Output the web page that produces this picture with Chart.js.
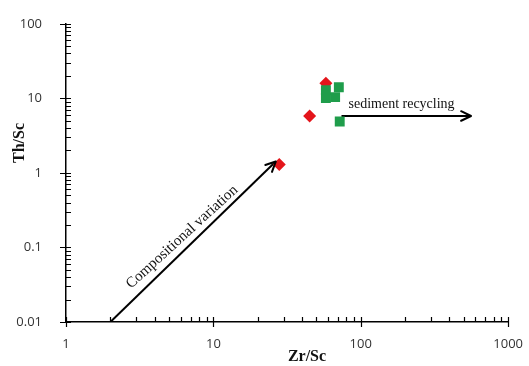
<!DOCTYPE html>
<html>
<head>
<meta charset="utf-8">
<script src="https://cdn.jsdelivr.net/npm/chart.js@4.4.1/dist/chart.umd.min.js"></script>
<style>
  html, body { margin: 0; padding: 0; background: #fff; }
  #wrap { width: 529px; height: 366px; }
</style>
</head>
<body>
<div id="wrap"><canvas id="c"></canvas></div>
<script>
// Datos (Zr/Sc vs Th/Sc, log-log)
const redZrSc = [58, 45, 28];
const redThSc = [16, 5.8, 1.3];
const greenZrSc = [58, 71, 58, 67, 72];
const greenThSc = [12.9, 14.1, 10.1, 10.4, 4.9];

const xTicks = [1, 10, 100, 1000];
const xTickLabels = ['1', '10', '100', '1000'];
const yTicks = [0.01, 0.1, 1, 10, 100];
const yTickLabels = ['0.01', '0.1', '1', '10', '100'];

// flechas (coordenadas en unidades de datos)
const compArrowX = [2, 26.5];
const compArrowY = [0.01, 1.42];
const sedArrowX = [74, 560];
const sedArrowY = [5.8, 5.8];

const xTitle = 'Zr/Sc';
const yTitle = 'Th/Sc';
const compLabel = 'Compositional variation';
const sedLabel = 'sediment recycling';

const pts = (xs, ys) => xs.map((x, i) => ({ x, y: ys[i] }));

// marcas menores y mayores de los ejes log
function drawAxisTicks(chart) {
  const ctx = chart.ctx;
  const xs = chart.scales.x, ys = chart.scales.y;
  const xAxisY = ys.bottom, yAxisX = xs.left;
  ctx.save();
  ctx.strokeStyle = '#000';
  ctx.lineWidth = 1.2;
  ctx.beginPath();
  for (let d = 1; d < 1000; d *= 10) {
    for (let k = 1; k <= 10; k++) {
      const px = Math.round(xs.getPixelForValue(d * k)) + 0.5;
      const major = k === 1 || k === 10;
      ctx.moveTo(px, xAxisY - 5);
      ctx.lineTo(px, major ? xAxisY + 5 : xAxisY);
    }
  }
  for (let d = 0.01; d < 99; d *= 10) {
    for (let k = 1; k <= 10; k++) {
      const py = Math.round(ys.getPixelForValue(d * k)) + 0.5;
      const major = k === 1 || k === 10;
      ctx.moveTo(major ? yAxisX - 6 : yAxisX, py);
      ctx.lineTo(yAxisX + 5, py);
    }
  }
  ctx.stroke();
  ctx.restore();
}

function arrowHead(ctx, x0, y0, x1, y1) {
  const a = Math.atan2(y1 - y0, x1 - x0);
  const len = 11, spread = 0.45;
  ctx.beginPath();
  ctx.moveTo(x1 - len * Math.cos(a - spread), y1 - len * Math.sin(a - spread));
  ctx.lineTo(x1, y1);
  ctx.lineTo(x1 - len * Math.cos(a + spread), y1 - len * Math.sin(a + spread));
  ctx.stroke();
}

const annotations = {
  id: 'annotations',
  afterDatasetsDraw(chart) {
    const ctx = chart.ctx;
    const xs = chart.scales.x, ys = chart.scales.y;
    drawAxisTicks(chart);

    ctx.save();
    ctx.strokeStyle = '#000';
    ctx.lineWidth = 2;
    ctx.lineCap = 'round';
    ctx.lineJoin = 'round';
    // cabezas de flecha
    [chart.getDatasetMeta(2), chart.getDatasetMeta(3)].forEach(meta => {
      const p = meta.data;
      const a = p[p.length - 2], b = p[p.length - 1];
      arrowHead(ctx, a.x, a.y, b.x, b.y);
    });

    // texto de la flecha diagonal
    ctx.fillStyle = '#111';
    ctx.font = '15px "Liberation Serif", "Times New Roman", serif';
    const cx0 = xs.getPixelForValue(compArrowX[0]), cy0 = ys.getPixelForValue(compArrowY[0]);
    const cx1 = xs.getPixelForValue(compArrowX[1]), cy1 = ys.getPixelForValue(compArrowY[1]);
    const ang = Math.atan2(cy1 - cy0, cx1 - cx0);
    const t = 0.48;
    const mx = cx0 + (cx1 - cx0) * t, my = cy0 + (cy1 - cy0) * t;
    ctx.save();
    ctx.translate(mx + 11 * Math.sin(ang), my - 11 * Math.cos(ang));
    ctx.rotate(ang + 0.03);
    ctx.textAlign = 'center';
    ctx.textBaseline = 'middle';
    ctx.fillText(compLabel, 0, 0);
    ctx.restore();

    // texto de la flecha horizontal
    ctx.font = '14px "Liberation Serif", "Times New Roman", serif';
    const sx = xs.getPixelForValue(sedArrowX[0]), sy = ys.getPixelForValue(sedArrowY[0]);
    ctx.textAlign = 'left';
    ctx.textBaseline = 'alphabetic';
    ctx.fillText(sedLabel, sx + 7, sy - 8);

    // títulos de ejes
    ctx.font = 'bold 16px "Liberation Serif", "Times New Roman", serif';
    ctx.textAlign = 'center';
    ctx.textBaseline = 'middle';
    ctx.fillText(xTitle, 307, 357);
    ctx.save();
    ctx.translate(20, 143);
    ctx.rotate(-Math.PI / 2);
    ctx.fillText(yTitle, 0, 0);
    ctx.restore();
    ctx.restore();
  }
};

new Chart(document.getElementById('c'), {
  type: 'scatter',
  data: {
    datasets: [
      {
        label: 'green',
        data: pts(greenZrSc, greenThSc),
        pointStyle: 'rect',
        pointRadius: 7,
        backgroundColor: '#1f9d4b',
        borderColor: '#1f9d4b',
        borderWidth: 0
      },
      {
        label: 'red',
        data: pts(redZrSc, redThSc),
        pointStyle: 'rectRot',
        pointRadius: 6.5,
        backgroundColor: '#e4151b',
        borderColor: '#e4151b',
        borderWidth: 0
      },
      {
        label: 'comp',
        data: pts(compArrowX, compArrowY),
        showLine: true,
        pointRadius: 0,
        borderColor: '#000',
        borderWidth: 2
      },
      {
        label: 'sed',
        data: pts(sedArrowX, sedArrowY),
        showLine: true,
        pointRadius: 0,
        borderColor: '#000',
        borderWidth: 2
      }
    ]
  },
  options: {
    responsive: true,
    maintainAspectRatio: false,
    animation: false,
    layout: { padding: { left: 0, top: 19, right: 19, bottom: 0 } },
    plugins: { legend: { display: false }, tooltip: { enabled: false } },
    scales: {
      x: {
        type: 'logarithmic',
        min: 1,
        max: 1000,
        afterFit: s => { s.height = 44; },
        afterBuildTicks: s => { s.ticks = xTicks.map(v => ({ value: v })); },
        grid: { display: false },
        border: { display: true, color: '#000', width: 1.5 },
        ticks: {
          autoSkip: false,
          maxRotation: 0,
          padding: 6,
          color: '#333',
          font: { family: '"Open Sans", "Noto Sans", sans-serif', size: 13 },
          callback: (v, i) => xTickLabels[i]
        }
      },
      y: {
        type: 'logarithmic',
        min: 0.01,
        max: 100,
        afterFit: s => { s.width = 66; },
        afterBuildTicks: s => { s.ticks = yTicks.map(v => ({ value: v })); },
        grid: { display: false },
        border: { display: true, color: '#000', width: 1.5 },
        ticks: {
          autoSkip: false,
          padding: 16,
          color: '#333',
          font: { family: '"Open Sans", "Noto Sans", sans-serif', size: 13 },
          callback: (v, i) => yTickLabels[i]
        }
      }
    }
  },
  plugins: [annotations]
});
</script>
</body>
</html>
